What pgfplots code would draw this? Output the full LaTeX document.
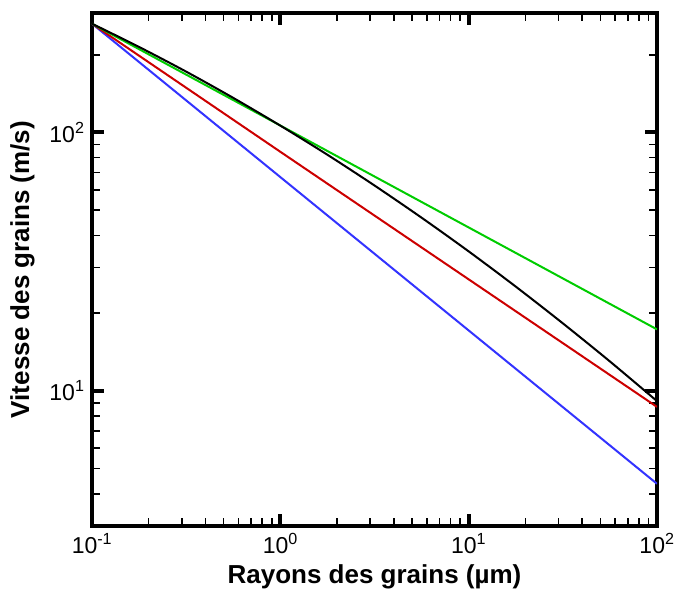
\documentclass[border=0pt]{standalone}
\usepackage{pgfplots}
\pgfplotsset{compat=1.18}
\usepackage{fontspec}
\setmainfont{Liberation Sans}
\definecolor{cblue}{RGB}{51,51,255}
\definecolor{cred}{RGB}{204,0,0}
\definecolor{cgreen}{RGB}{0,204,0}
\begin{document}
\begin{tikzpicture}
\begin{axis}[
  xmode=log, ymode=log,
  scale only axis, width=565pt, height=513pt,
  xmin=0.1, xmax=100, ymin=3, ymax=290,
  axis line style={line width=4pt},
  tick align=inside,
  xtick={0.1,1,10,100},
  xticklabels={10\textsuperscript{-1},10\textsuperscript{0},10\textsuperscript{1},10\textsuperscript{2}},
  minor xtick={0.2,0.3,0.4,0.5,0.6,0.7,0.8,0.9,2,3,4,5,6,7,8,9,20,30,40,50,60,70,80,90},
  ytick={10,100},
  yticklabels={10\textsuperscript{1},10\textsuperscript{2}},
  minor ytick={4,5,6,7,8,9,20,30,40,50,60,70,80,90,200},
  major tick length=12pt,
  minor tick length=8pt,
  every major tick/.style={line width=4pt, black},
  every minor tick/.style={line width=1.6pt, black},
  tick label style={font=\fontsize{23}{26}\selectfont},
  xticklabel style={yshift=-4pt},
  yticklabel style={xshift=-4pt},
  xlabel={\bfseries Rayons des grains (µm)},
  ylabel={\bfseries Vitesse des grains (m/s)},
  label style={font=\fontsize{26}{30}\selectfont},
  xlabel style={at={(axis description cs:0.5,-0.0994)}, anchor=center},
  ylabel style={at={(axis description cs:-0.123,0.5)}, anchor=center, rotate=0},
]
\addplot[cblue, line width=2pt] coordinates {(0.1,263.6) (1,67.2) (100,4.37)};
\addplot[cred, line width=2pt] coordinates {(0.1,263.6) (1,84.2) (100,8.67)};
\addplot[cgreen, line width=2pt] coordinates {(0.1,263.6) (1,106.4) (100,17.3)};
\addplot[black, line width=2pt, smooth] coordinates {
(0.1,263.6) (0.1778,214.3) (0.3162,172.0) (0.5623,136.1) (1,106.3)
(1.778,82.0) (3.162,62.35) (5.623,46.8) (10,34.67) (17.78,25.33)
(31.62,18.26) (56.23,13.00) (100,9.13)};
\end{axis}
\pgfresetboundingbox
\path (current axis.south west) ++(-92pt,-68pt) rectangle ++(677pt,594pt);
\end{tikzpicture}
\end{document}
